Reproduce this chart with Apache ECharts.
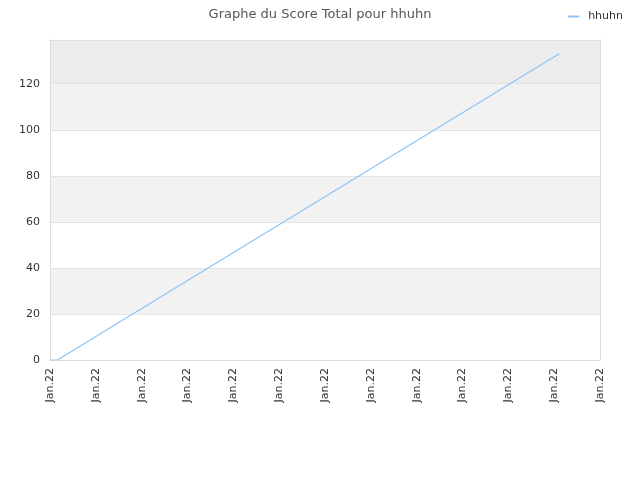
<!DOCTYPE html>
<html><head><meta charset="utf-8">
<script src="https://cdn.jsdelivr.net/npm/echarts@6/dist/echarts.min.js"></script>
<style>html,body{margin:0;padding:0;background:#fff}#c{width:640px;height:480px}</style>
</head><body><div id="c"></div>
<script>
const title = "Graphe du Score Total pour hhuhn";
const seriesName = "hhuhn";
const xTickLabels = ["Jan.22","Jan.22","Jan.22","Jan.22","Jan.22","Jan.22","Jan.22","Jan.22","Jan.22","Jan.22","Jan.22","Jan.22","Jan.22"];
const xPositions = [0, 0.16, 11.11];
const scores = [0, 0, 133];

const borderAxis = {axisLine: {show: true, onZero: false, lineStyle: {color: '#dddddd'}}, axisTick: {show: false},
  axisLabel: {show: false}, splitLine: {show: false}, splitArea: {show: false}};

const chart = echarts.init(document.getElementById('c'), null, {renderer: 'canvas'});
chart.setOption({
  animation: false,
  backgroundColor: '#fff',
  title: {text: title, left: 'center', top: 3,
    textStyle: {fontFamily: 'DejaVu Sans', fontSize: 13, fontWeight: 'normal', color: '#555'}},
  legend: {right: 12, top: 6, itemWidth: 11, itemHeight: 2, itemGap: 6,
    icon: 'rect',
    textStyle: {fontFamily: 'DejaVu Sans', fontSize: 11, color: '#333', padding: [0, 0, 0, 4]},
    data: [{name: seriesName}]},
  grid: {left: 50, right: 40, top: 40, bottom: 120, containLabel: false},
  xAxis: [{type: 'value', min: 0, max: 12, interval: 1,
    axisLine: {show: true, onZero: false, lineStyle: {color: '#ddd'}},
    axisTick: {show: false},
    splitLine: {show: false},
    axisLabel: {rotate: 90, margin: 8, fontFamily: 'DejaVu Sans', fontSize: 11, color: '#333',
      formatter: (v) => xTickLabels[Math.round(v)] || ''}},
    Object.assign({type: 'value', position: 'top', min: 0, max: 12}, borderAxis)],
  yAxis: [{type: 'value', min: 0, max: 139, interval: 20,
    axisLine: {show: true, onZero: false, lineStyle: {color: '#ddd'}},
    axisTick: {show: false},
    splitLine: {show: true, lineStyle: {color: '#e4e4e4'}},
    splitArea: {show: true, areaStyle: {color: ['#ffffff','#f2f2f2','#ffffff','#f2f2f2','#ffffff','#f2f2f2','#ececec']}},
    axisLabel: {showMaxLabel: false, margin: 10, fontFamily: 'DejaVu Sans', fontSize: 11, color: '#333'}},
    Object.assign({type: 'value', position: 'right', min: 0, max: 139}, borderAxis)],
  series: [{
    name: seriesName, type: 'line', symbol: 'none',
    lineStyle: {color: '#8fc3f5', width: 1.2},
    itemStyle: {color: '#8fc3f5'},
    data: xPositions.map((x, i) => [x, scores[i]])
  }]
});
</script></body></html>
